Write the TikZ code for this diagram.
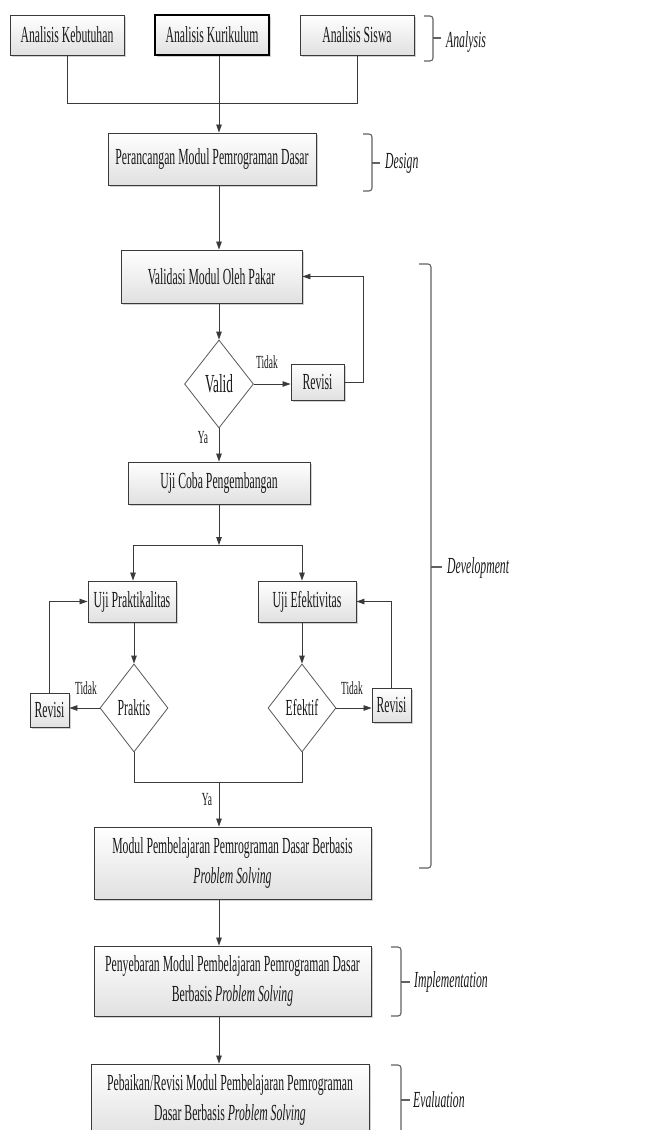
\documentclass[tikz,border=0pt]{standalone}
\usepackage{fontspec}
\setmainfont[FakeStretch=0.51]{Liberation Serif}
\usetikzlibrary{shapes.geometric,arrows.meta,shadows,calc}
\definecolor{lineC}{HTML}{3A3A3A}
\tikzset{
  mainfont/.style={font=\fontsize{23}{30}\selectfont},
  box/.style={draw=lineC, line width=0.9pt, top color=white, bottom color=black!12,
    drop shadow={shadow xshift=1.6pt, shadow yshift=-1.6pt, fill=black!40, opacity=0.45},
    inner sep=0pt, align=center, mainfont, text=black!90},
  dec/.style={shape=diamond, draw=lineC!85, line width=0.8pt, fill=white, inner sep=0pt, mainfont, text=black!90},
  conn/.style={draw=lineC, line width=0.8pt},
  arr/.style={conn, -{Triangle[length=8pt,width=5.5pt]}},
  lbl/.style={font=\fontsize{18.5}{21}\selectfont, text=black!90, inner sep=0pt},
  brk/.style={draw=lineC!80, line width=1.1pt, rounded corners=3pt},
  phase/.style={font=\fontsize{23}{27}\selectfont\itshape, text=black!90, anchor=west, inner sep=0pt}
}
\begin{document}
\begin{tikzpicture}[x=1pt,y=-1pt]
\useasboundingbox (0,0) rectangle (654,1130);
\coordinate (ax) at (219,0);
% nodes
\node[box, minimum width=114pt, minimum height=40pt] (a1) at (67,35) {Analisis Kebutuhan};
\node[box, draw=black, line width=1.3pt, minimum width=114pt, minimum height=40pt] (a2) at (212,35) {Analisis Kurikulum};
\node[box, minimum width=114pt, minimum height=40pt] (a3) at (357,35) {Analisis Siswa};
\node[box, minimum width=208pt, minimum height=52pt] (des) at (212,159) {Perancangan Modul Pemrograman Dasar};
\node[box, minimum width=181pt, minimum height=53pt] (val) at (211.5,276.5) {Validasi Modul Oleh Pakar};
\node[dec, font=\fontsize{26}{30}\selectfont, minimum width=69pt, minimum height=88pt] (vd) at (219,384) {Valid};
\node[box, minimum width=53pt, minimum height=36pt] (r1) at (317.5,382) {Revisi};
\node[box, minimum width=182pt, minimum height=42pt] (uc) at (219,483) {Uji Coba Pengembangan};
\node[box, minimum width=88pt, minimum height=41pt] (up) at (132,601.5) {Uji Praktikalitas};
\node[box, minimum width=98pt, minimum height=41pt] (ue) at (307,601.5) {Uji Efektivitas};
\node[dec, minimum width=68pt, minimum height=88pt] (pd) at (134,708) {Praktis};
\node[dec, minimum width=68pt, minimum height=88pt] (ed) at (302,708) {Efektif};
\node[box, minimum width=39pt, minimum height=34pt] (rl) at (49.5,710) {Revisi};
\node[box, minimum width=39pt, minimum height=34pt] (rr) at (391.5,705) {Revisi};
\node[box, minimum width=277pt, minimum height=72pt] (mod) at (232.5,863) {Modul Pembelajaran Pemrograman Dasar Berbasis\\\textit{Problem Solving}};
\node[box, minimum width=277pt, minimum height=70pt] (pen) at (232.5,981) {Penyebaran Modul Pembelajaran Pemrograman Dasar\\Berbasis \textit{Problem Solving}};
\node[box, minimum width=278pt, minimum height=72pt] (peb) at (230,1100) {Pebaikan/Revisi Modul Pembelajaran Pemrograman\\Dasar Berbasis \textit{Problem Solving}};
% connectors
\coordinate (j) at (219,103);
\draw[conn] (a1.south) |- (j);
\draw[conn] (a3.south) |- (j);
\draw[arr] (a2.south -| ax) -- (des.north -| ax);
\draw[arr] (des.south -| ax) -- (val.north -| ax);
\draw[arr] (val.south -| ax) -- (vd.north);
\draw[arr] (vd.east) -- (vd.east -| r1.west);
\node[lbl] (t1) at (267,362) {Tidak};
\draw[arr] (r1.east) -- ++(19,0) |- (val.east);
\draw[arr] (vd.south) -- (uc.north);
\node[lbl] (y1) at (203,438) {Ya};
\coordinate (sp) at (219,545);
\coordinate (sl) at (133,545);
\coordinate (sr) at (302,545);
\draw[arr] (uc.south) -- (sp);
\draw[conn] (sl) -- (sr);
\draw[arr] (sl) -- (up.north -| sl);
\draw[arr] (sr) -- (ue.north -| sr);
\draw[arr] (up.south -| pd) -- (pd.north);
\draw[arr] (ue.south -| ed) -- (ed.north);
\draw[arr] (pd.west) -- (pd.west -| rl.east);
\draw[arr] (ed.east) -- (ed.east -| rr.west);
\node[lbl] (t2) at (86,688) {Tidak};
\node[lbl] (t3) at (352,688) {Tidak};
\draw[arr] (rl.north) |- (up.west);
\draw[arr] (rr.north) |- (ue.east);
\coordinate (m) at (219,782);
\draw[conn] (pd.south) |- (ed.south |- m) -- (ed.south);
\draw[arr] (m) -- (mod.north -| m);
\node[lbl] (y2) at (207,800) {Ya};
\draw[arr] (mod.south -| ax) -- (pen.north -| ax);
\draw[arr] (pen.south -| ax) -- (peb.north -| ax);
% phase braces
\draw[brk] (424,16) -- (433,16) -- (433,61) -- (424,61);
\draw[brk] (433,38) -- (441,38);
\node[phase] (pa) at (446,42) {Analysis};
\draw[brk] (363,134) -- (372,134) -- (372,191) -- (363,191);
\draw[brk] (372,163) -- (380,163);
\node[phase] (pdsg) at (385,163) {Design};
\draw[brk] (419,264) -- (431,264) -- (431,868) -- (419,868);
\draw[brk] (431,567) -- (442,567);
\node[phase] (pdev) at (447,568) {Development};
\draw[brk] (391,947) -- (401,947) -- (401,1016) -- (391,1016);
\draw[brk] (401,982) -- (410,982);
\node[phase] (pimp) at (414,982) {Implementation};
\draw[brk] (391,1065) -- (401,1065) -- (401,1140) -- (391,1140);
\draw[brk] (401,1100) -- (410,1100);
\node[phase] (pev) at (413,1100) {Evaluation};
\end{tikzpicture}
\end{document}
